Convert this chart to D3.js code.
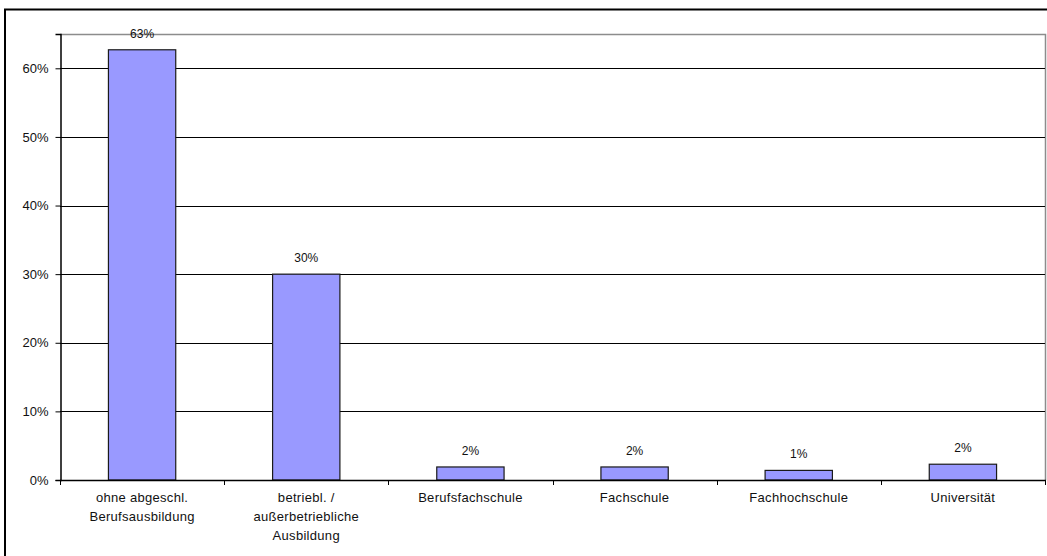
<!DOCTYPE html>
<html>
<head>
<meta charset="utf-8">
<script src="https://cdn.jsdelivr.net/npm/d3@7"></script>
<style>
  html, body { margin: 0; padding: 0; background: #fff; }
  svg { display: block; font-family: "Liberation Sans", Arial, sans-serif; }
</style>
</head>
<body>
<svg id="chart" width="1047" height="556"></svg>
<script>
// Schulische / berufliche Ausbildung – Anteile in Prozent
const categories = [
  ["ohne abgeschl.", "Berufsausbildung"],
  ["betriebl. /", "außerbetriebliche", "Ausbildung"],
  ["Berufsfachschule"],
  ["Fachschule"],
  ["Fachhochschule"],
  ["Universität"]
];
const values = [62.7, 30.0, 1.9, 1.9, 1.4, 2.3];
const yTicks = [0, 10, 20, 30, 40, 50, 60];

const svg = d3.select("#chart");
const plot = { left: 60, top: 34, right: 1045, bottom: 480 };

// outer chart frame (extends past the right and bottom edges)
svg.append("path")
  .attr("d", "M5,560 L5,9.5 L1060,9.5")
  .attr("fill", "none")
  .attr("stroke", "#000")
  .attr("stroke-width", 2);

const x = d3.scaleBand()
  .domain(d3.range(categories.length))
  .range([plot.left, plot.right])
  .paddingInner(0.59)
  .paddingOuter(0.295);

const y = d3.scaleLinear()
  .domain([0, 65])
  .range([plot.bottom, plot.top]);

// plot area border (top and right, gray)
svg.append("path")
  .attr("d", `M${plot.left},${plot.top + 0.5} L${plot.right + 0.5},${plot.top + 0.5} L${plot.right + 0.5},${plot.bottom}`)
  .attr("fill", "none")
  .attr("stroke", "#8c8c8c")
  .attr("stroke-width", 1.5);

// horizontal gridlines
svg.append("g")
  .selectAll("line")
  .data(yTicks.filter(d => d > 0))
  .join("line")
  .attr("x1", plot.left)
  .attr("x2", plot.right)
  .attr("y1", d => Math.round(y(d)) + 0.5)
  .attr("y2", d => Math.round(y(d)) + 0.5)
  .attr("stroke", "#000")
  .attr("stroke-width", 1);

// bars
svg.append("g")
  .selectAll("rect")
  .data(values)
  .join("rect")
  .attr("x", (d, i) => x(i))
  .attr("y", d => y(d))
  .attr("width", x.bandwidth())
  .attr("height", d => plot.bottom - y(d))
  .attr("fill", "#9999ff")
  .attr("stroke", "#1a1a1a")
  .attr("stroke-width", 1.2);

// value labels
svg.append("g")
  .selectAll("text")
  .data(values)
  .join("text")
  .attr("x", (d, i) => x(i) + x.bandwidth() / 2)
  .attr("y", d => y(d) - 12)
  .attr("text-anchor", "middle")
  .attr("font-size", 12)
  .attr("fill", "#111")
  .text(d => d3.format(".0%")(d / 100));

// y axis
const yAxis = d3.axisLeft(y)
  .tickValues(yTicks)
  .tickSize(5)
  .tickPadding(7)
  .tickFormat(d => d + "%");
const gy = svg.append("g")
  .attr("transform", `translate(${plot.left + 0.5},0)`)
  .call(yAxis);
gy.select(".domain").attr("stroke", "#000").attr("stroke-width", 1.5);
gy.selectAll(".tick line").attr("stroke", "#000");
gy.selectAll(".tick text")
  .attr("font-family", "Liberation Sans, Arial, sans-serif")
  .attr("font-size", 13)
  .attr("fill", "#111");

// x axis: tick marks at category boundaries
const boundaries = d3.range(categories.length + 1).map(i => plot.left + i * x.step());
const gx = svg.append("g");
gx.append("line")
  .attr("x1", plot.left)
  .attr("x2", plot.right + 1)
  .attr("y1", plot.bottom + 0.5)
  .attr("y2", plot.bottom + 0.5)
  .attr("stroke", "#000")
  .attr("stroke-width", 1.5);
gx.selectAll("line.tk")
  .data(boundaries)
  .join("line")
  .attr("class", "tk")
  .attr("x1", d => Math.round(d) + 0.5)
  .attr("x2", d => Math.round(d) + 0.5)
  .attr("y1", plot.bottom)
  .attr("y2", plot.bottom + 5)
  .attr("stroke", "#000");

// category labels (multi-line)
const cat = svg.append("g")
  .selectAll("text")
  .data(categories)
  .join("text")
  .attr("text-anchor", "middle")
  .attr("font-size", 13)
  .attr("letter-spacing", 0.3)
  .attr("fill", "#111")
  .attr("transform", (d, i) => `translate(${x(i) + x.bandwidth() / 2},${plot.bottom + 22})`);
cat.selectAll("tspan")
  .data(d => d)
  .join("tspan")
  .attr("x", 0)
  .attr("y", (d, i) => i * 19)
  .text(d => d);
</script>
</body>
</html>
